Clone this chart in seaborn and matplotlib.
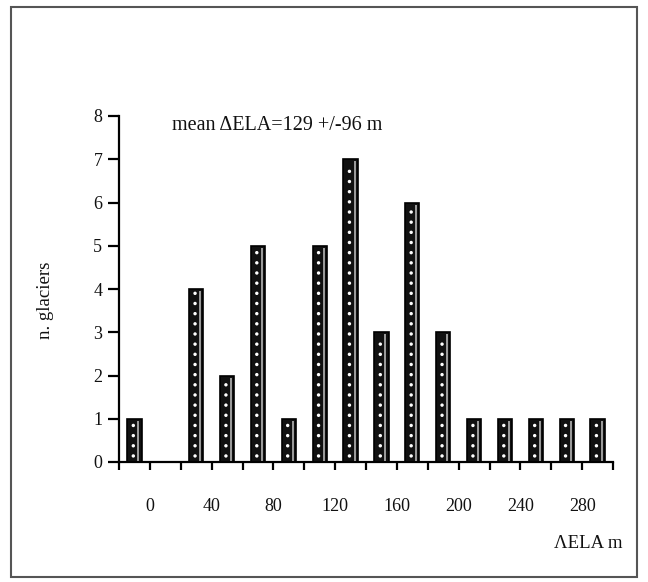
import matplotlib
matplotlib.use("Agg")
import matplotlib.pyplot as plt
from matplotlib.patches import Rectangle
import seaborn as sns
import numpy as np
import pandas as pd

# Histogram of ELA change: bin centres (m) and glacier counts
bin_centres = [-10, 10, 30, 50, 70, 90, 110, 130, 150, 170, 190, 210, 230, 250, 270, 290]
counts = [1, 0, 4, 2, 5, 1, 5, 7, 3, 6, 3, 1, 1, 1, 1, 1]
x_tick_values = [0, 40, 80, 120, 160, 200, 240, 280]
y_tick_values = [0, 1, 2, 3, 4, 5, 6, 7, 8]
annotation = "mean \u0394ELA=129 +/-96 m"
x_label = "\u039bELA m"
y_label = "n. glaciers"

df = pd.DataFrame({"dela": bin_centres, "n": counts})

sns.set_theme(style="white")
plt.rcParams["font.family"] = ["Liberation Serif", "DejaVu Serif"]

fig = plt.figure(figsize=(6.48, 5.82), dpi=100)
ax = fig.add_axes([119 / 648, (582 - 462) / 582, (613 - 119) / 648, (462 - 116) / 582])

sns.barplot(data=df, x="dela", y="n", native_scale=True, width=0.46,
            color="#111111", edgecolor="black", linewidth=1.2,
            saturation=1, ax=ax)

# stippled texture: a column of white dots and a light highlight stripe per bar
for p in list(ax.patches):
    h = p.get_height()
    if h <= 0:
        continue
    x0 = p.get_x()
    w = p.get_width()
    ys = np.arange(0.14, h - 0.08, 0.235)
    ax.scatter(np.full_like(ys, x0 + w * 0.42), ys, s=6, color="white",
               edgecolors="none", zorder=4)
    ax.vlines(x0 + w * 0.78, 0.02, h - 0.05, color="#c4c4c4", linewidth=1.1, zorder=4)

ax.set_xlim(-20, 300)
ax.set_ylim(0, 8)
all_x_ticks = list(range(-20, 301, 20))
ax.set_xticks(all_x_ticks)
ax.set_xticklabels([str(v) if v in x_tick_values else "" for v in all_x_ticks])
ax.set_yticks(y_tick_values)
ax.set_yticklabels([str(v) for v in y_tick_values])

for side in ("top", "right"):
    ax.spines[side].set_visible(False)
for side in ("left", "bottom"):
    ax.spines[side].set_color("black")
    ax.spines[side].set_linewidth(1.6)

ax.tick_params(axis="x", direction="out", length=6, width=1.6, color="black",
               pad=20, labelsize=13, labelcolor="#111111", bottom=True)
ax.tick_params(axis="y", direction="out", length=8, width=1.6, color="black",
               pad=4, labelsize=13, labelcolor="#111111", left=True)

ax.set_xlabel("")
ax.set_ylabel("")
fig.text(622 / 648, 1 - 544 / 582, x_label, ha="right", va="center",
         fontsize=13.5, color="#111111")
fig.text(45 / 648, 1 - 300 / 582, y_label, ha="center", va="center",
         rotation=90, fontsize=13.5, color="#111111")
fig.text(172 / 648, 1 - 125 / 582, annotation, ha="left", va="center",
         fontsize=14.5, color="#111111")

# outer frame around the figure
fig.patches.append(Rectangle((11 / 648, 1 - 577 / 582), (637 - 11) / 648, (577 - 7) / 582,
                             transform=fig.transFigure, fill=False,
                             edgecolor="#555555", linewidth=1.5))

fig.savefig("out.png", dpi=100)
